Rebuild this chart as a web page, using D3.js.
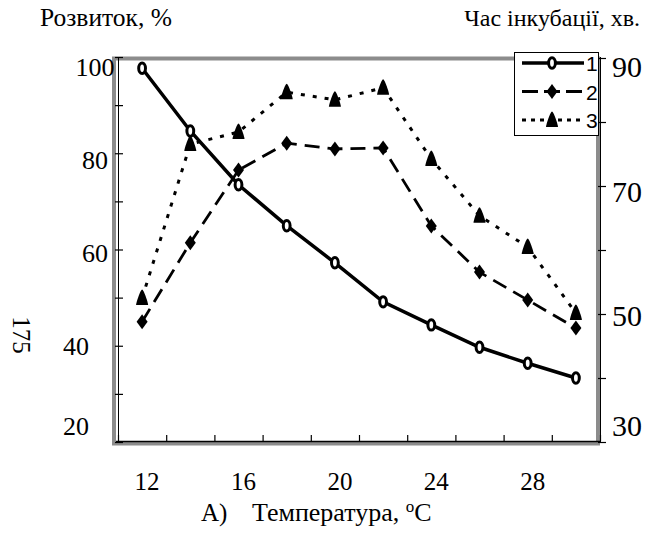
<!DOCTYPE html>
<html>
<head>
<meta charset="utf-8">
<script src="https://cdn.jsdelivr.net/npm/d3@7"></script>
<style>
  body { margin: 0; background: #fff; }
  svg text { font-family: 'Liberation Serif', 'Times New Roman', serif; fill: #000; }
  .legendText { font-family: 'Liberation Sans', Arial, sans-serif; }
</style>
</head>
<body>
<div id="chart"></div>
<script>
// temperatures, deg C
let temps = [12, 14, 16, 18, 20, 22, 24, 26, 28, 30];
let xLabels = [12, 16, 20, 24, 28];
// series 1 - incubation time, min (right axis)
let series1 = [88.4, 78.6, 70.2, 63.8, 58.0, 51.9, 48.3, 44.8, 42.3, 40.0];
// series 2, 3 - development, % (left axis)
let series2 = [45.0, 61.4, 76.5, 82.1, 80.9, 81.1, 64.9, 55.3, 49.5, 43.7];
let series3 = [49.9, 81.9, 84.4, 92.7, 91.1, 93.6, 78.8, 67.0, 60.5, 46.8];
let leftTicks = [20, 30, 40, 50, 60, 70, 80, 90, 100];
let leftLabels = [100, 80, 60, 40, 20];
let rightTicks = [30, 40, 50, 60, 70, 80, 90];
let rightLabels = [90, 70, 50, 30];
let legendNames = ['1', '2', '3'];

let width = 647, height = 534;
let plot = {left: 118, right: 600, top: 57, bottom: 442};

let svg = d3.select('#chart').append('svg')
    .attr('width', width)
    .attr('height', height);

let x = d3.scaleBand()
    .domain(temps)
    .range([plot.left, plot.right]);
let xc = d => x(d) + x.bandwidth() / 2;

let yL = d3.scaleLinear().domain([20, 100]).range([plot.bottom, plot.top]);
let yR = d3.scaleLinear().domain([30, 90]).range([plot.bottom, plot.top + 1]);
// label positions in the source are not aligned to ticks
let yLLab = d3.scaleLinear().domain([20, 40, 100]).range([426, 346, 67]);
let xLLab = d3.scaleThreshold().domain([50]).range([76, 95]);
let yRLab = d3.scaleLinear().domain([30, 50, 90]).range([426, 316, 67]);

// plot area frame (grey)
svg.append('rect')
    .attr('x', plot.left - 4)
    .attr('y', plot.top + 1.5)
    .attr('width', plot.right - plot.left + 2)
    .attr('height', plot.bottom - plot.top)
    .attr('fill', 'none')
    .attr('stroke', '#8c8c8c')
    .attr('stroke-width', 4);

// left axis
let leftAxis = d3.axisRight(yL).tickValues(leftTicks).tickSize(5).tickFormat('');
svg.append('g')
    .attr('transform', 'translate(' + plot.left + ',0)')
    .call(leftAxis)
    .call(g => g.select('.domain').attr('d', 'M0.5,' + plot.top + 'V' + plot.bottom))
    .call(g => g.selectAll('.tick line').attr('x1', -3).attr('stroke-width', 1.2));

// right axis
let rightAxis = d3.axisRight(yR).tickValues(rightTicks).tickSize(6).tickFormat('');
svg.append('g')
    .attr('transform', 'translate(' + plot.right + ',0)')
    .call(rightAxis)
    .call(g => g.select('.domain').attr('d', 'M0.5,' + plot.top + 'V' + plot.bottom))
    .call(g => g.selectAll('.tick line').attr('x1', -2).attr('stroke-width', 1.2));

// bottom axis, ticks between categories
let bottomAxis = d3.axisTop(d3.scaleLinear().domain([0, temps.length]).range([plot.left, plot.right]))
    .ticks(temps.length).tickSize(6).tickFormat('');
svg.append('g')
    .attr('transform', 'translate(0,' + (plot.bottom - 1) + ')')
    .call(bottomAxis)
    .call(g => g.select('.domain').attr('d', 'M' + (plot.left - 2) + ',0.5H' + plot.right).attr('stroke-width', 1.5))
    .call(g => g.selectAll('.tick line').attr('stroke-width', 1.2));

// tick labels
svg.append('g').selectAll('text').data(leftLabels).join('text')
    .attr('x', d => xLLab(d))
    .attr('y', d => yLLab(d) + 9)
    .attr('text-anchor', 'middle')
    .style('font-size', '26px')
    .text(d => d);

svg.append('g').selectAll('text').data(rightLabels).join('text')
    .attr('x', 612)
    .attr('y', d => yRLab(d) + 10)
    .style('font-size', '30px')
    .text(d => d);

svg.append('g').selectAll('text').data(xLabels).join('text')
    .attr('x', d => xc(d) + 5)
    .attr('y', 490)
    .attr('text-anchor', 'middle')
    .style('font-size', '25px')
    .text(d => d);

// titles
svg.append('text').attr('x', 40).attr('y', 26).style('font-size', '25.5px').text('Розвиток, %');
svg.append('text').attr('x', 640).attr('y', 26).attr('text-anchor', 'end').style('font-size', '24px').text('Час інкубації, хв.');
svg.append('text').attr('x', 201).attr('y', 521).style('font-size', '25px').text('А)');
let xt = svg.append('text').attr('x', 252).attr('y', 521).style('font-size', '26px');
xt.append('tspan').text('Температура, ');
xt.append('tspan').attr('dy', -9).style('font-size', '17px').text('o');
xt.append('tspan').attr('dy', 9).text('C');
svg.append('text')
    .attr('transform', 'translate(13,335) rotate(90)')
    .attr('text-anchor', 'middle')
    .style('font-size', '25px')
    .text('175');

// markers
function diamond(sel) {
    sel.append('path').attr('d', 'M0,-7.5L5.5,0L0,7.5L-5.5,0Z').attr('fill', '#000');
}
function triangle(sel) {
    sel.append('path').attr('d', 'M0,-8.5C1.5,-8.5 6,4.5 6,7L-6,7C-6,4.5 -1.5,-8.5 0,-8.5Z').attr('fill', '#000');
}
function circle(sel) {
    sel.append('ellipse').attr('rx', 3.4).attr('ry', 5.2)
        .attr('fill', '#fff').attr('stroke', '#000').attr('stroke-width', 3);
}

let seriesList = [
    {name: '3', values: series3, y: yL, dash: '4,8', width: 3, marker: triangle},
    {name: '2', values: series2, y: yL, dash: '15,8', width: 2.8, marker: diamond},
    {name: '1', values: series1, y: yR, dash: null, width: 3.5, marker: circle}
];

seriesList.forEach(s => {
    let line = d3.line()
        .x((d, i) => xc(temps[i]))
        .y(d => s.y(d));
    svg.append('path')
        .datum(s.values)
        .attr('d', line)
        .attr('fill', 'none')
        .attr('stroke', '#000')
        .attr('stroke-width', s.width)
        .attr('stroke-dasharray', s.dash);
    svg.append('g').selectAll('g').data(s.values).join('g')
        .attr('transform', (d, i) => 'translate(' + xc(temps[i]) + ',' + s.y(d) + ')')
        .each(function() { s.marker(d3.select(this)); });
});

// legend
let legend = svg.append('g').attr('transform', 'translate(514,52)');
legend.append('rect')
    .attr('x', 0.5).attr('y', 0.5)
    .attr('width', 84).attr('height', 83)
    .attr('fill', '#fff')
    .attr('stroke', '#000');
let legendStyles = [seriesList[2], seriesList[1], seriesList[0]];
let ly = d3.scalePoint().domain(legendNames).range([11, 68]);
legendStyles.forEach(s => {
    let g = legend.append('g').attr('transform', 'translate(0,' + ly(s.name) + ')');
    g.append('line')
        .attr('x1', 8).attr('x2', 70)
        .attr('stroke', '#000')
        .attr('stroke-width', s.width)
        .attr('stroke-dasharray', s.name === '2' ? '16,6' : (s.name === '3' ? '4,5' : null));
    let m = g.append('g').attr('transform', 'translate(38,0)');
    s.marker(m);
    g.append('text')
        .attr('class', 'legendText')
        .attr('x', 72).attr('y', 8)
        .style('font-size', '21px')
        .text(s.name);
});
</script>
</body>
</html>
